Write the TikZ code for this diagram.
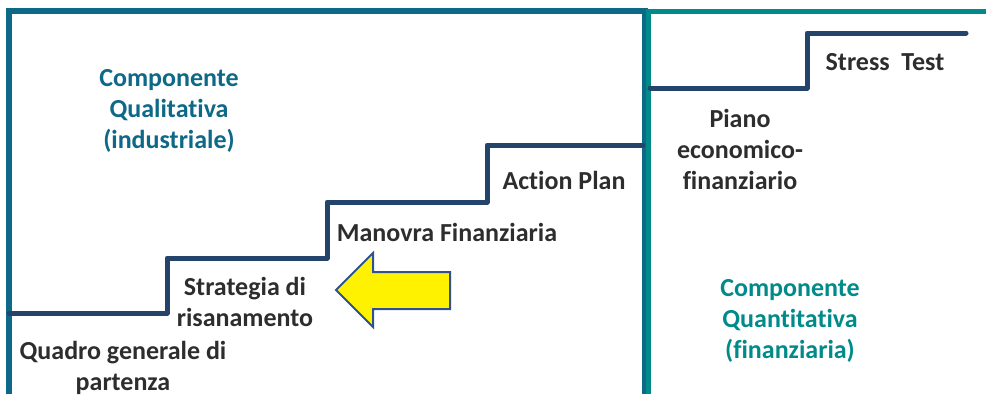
\documentclass[tikz,border=0pt]{standalone}
\usepackage{fontspec}
\setmainfont{Carlito}[Ligatures=NoCommon]
\usepackage{tikz}

\definecolor{qualblue}{RGB}{14,104,135}
\definecolor{quantteal}{RGB}{0,139,138}
\definecolor{stairnavy}{RGB}{36,68,108}
\definecolor{labelgray}{RGB}{45,45,45}
\definecolor{arrowrim}{RGB}{47,82,143}

\begin{document}
\begin{tikzpicture}[x=1pt,y=-1pt,
    stair/.style={line width=5pt,stairnavy,line join=round,line cap=round},
    steplabel/.style={font=\bfseries\fontsize{26}{31}\selectfont,text=labelgray,align=center},
    partlabel/.style={font=\bfseries\fontsize{26}{31}\selectfont,align=center}]
    \useasboundingbox (0,0) rectangle (986,394);

        % frames
        \draw[line width=6pt,qualblue] (9,394) -- (9,11) -- (645,11) -- (645,394);
        \draw[line width=5pt,quantteal] (648,394) -- (648,11) -- (986,11);

        % stairs
        \draw[stair] (9,313) -- (167,313) -- (167,258) -- (327,258) -- (327,202)
            -- (487,202) -- (487,145) -- (643,145);
        \draw[stair] (650,88) -- (807,88) -- (807,33) -- (966,33);

        \node[partlabel,text=qualblue] (qual) at (169,111) {Componente\\Qualitativa\\(industriale)};
        \node[partlabel,text=quantteal] (quant) at (790,321) {Componente\\Quantitativa\\(finanziaria)};

        \node[steplabel] (quadro) at (123,368) {Quadro generale di\\partenza};
        \node[steplabel] (strategia) at (245,302) {Strategia di\\risanamento};
        \node[steplabel] (manovra) at (447,232) {Manovra Finanziaria};
        \node[steplabel] (action) at (564,180) {Action Plan};
        \node[steplabel] (piano) at (740,149) {Piano\\economico-\\finanziario};
        \node[steplabel] (stress) at (885,62) {Stress\ \ Test};

        % arrow
        \draw[line width=2pt,arrowrim,fill=yellow,line join=miter]
            (336,290) -- (373,253) -- (373,272) -- (450,272) -- (450,309)
            -- (373,309) -- (373,327) -- cycle;

\end{tikzpicture}
\end{document}
